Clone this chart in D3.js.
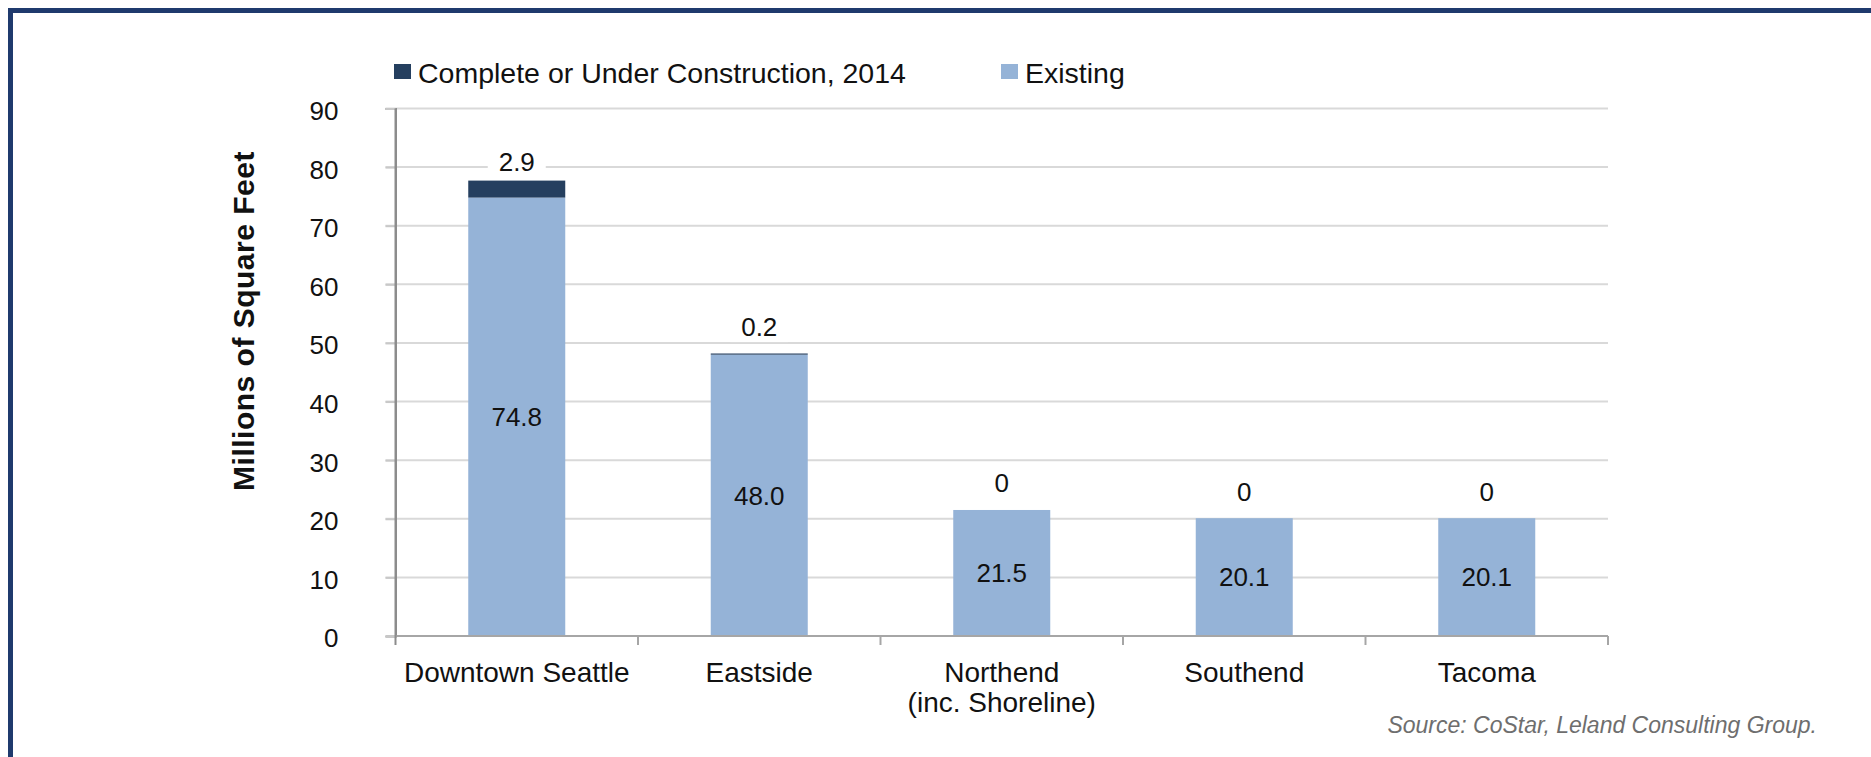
<!DOCTYPE html>
<html>
<head>
<meta charset="utf-8">
<script src="https://cdn.jsdelivr.net/npm/d3@7"></script>
<style>
  body { margin: 0; background: #fff; }
  svg { display: block; font-family: "Liberation Sans", Arial, sans-serif; }
</style>
</head>
<body>
<div id="chart"></div>
<script>
const categories = ["Downtown Seattle", "Eastside", "Northend\n(inc. Shoreline)", "Southend", "Tacoma"];
const existing = [74.8, 48.0, 21.5, 20.1, 20.1];
const construction = [2.9, 0.2, 0, 0, 0];
const yTicks = [0, 10, 20, 30, 40, 50, 60, 70, 80, 90];
const seriesNames = ["Complete or Under Construction, 2014", "Existing"];

const W = 1871, H = 757;
const margin = {top: 108.5, right: 263, bottom: 121, left: 395.5};
const width = W - margin.left - margin.right;
const height = H - margin.top - margin.bottom;

const darkBlue = "#253f5f";
const lightBlue = "#95b3d7";

const data = categories.map((c, i) => ({cat: c, existing: existing[i], construction: construction[i]}));

const svg = d3.select("#chart").append("svg")
  .attr("width", W)
  .attr("height", H);

// frame
svg.append("rect")
  .attr("x", 10.5).attr("y", 10.5)
  .attr("width", W + 20).attr("height", H + 20)
  .attr("fill", "none")
  .attr("stroke", "#1f3a6d")
  .attr("stroke-width", 5);

const g = svg.append("g")
  .attr("transform", `translate(${margin.left},${margin.top})`);

const x = d3.scaleBand().domain(categories).range([0, width]).padding(0);
const y = d3.scaleLinear().domain([0, 90]).range([height, 0]);
const barW = x.bandwidth() * 0.4;

// gridlines
g.selectAll(".grid")
  .data(yTicks.filter(d => d > 0))
  .enter().append("line")
  .attr("x1", -10).attr("x2", width)
  .attr("y1", d => y(d)).attr("y2", d => y(d))
  .attr("stroke", "#d9d9d9")
  .attr("stroke-width", 2);

// y axis
const yAxis = g.append("g")
  .call(d3.axisLeft(y).tickValues(yTicks).tickSize(10).tickPadding(47));
yAxis.select(".domain").attr("stroke", "#8c8c8c").attr("stroke-width", 2);
yAxis.selectAll(".tick line").attr("stroke", "#c8c8c8").attr("stroke-width", 2);
yAxis.selectAll(".tick text")
  .attr("font-size", 26)
  .attr("fill", "#111")
  .attr("dy", "0.42em")
  .style("font-family", "'Liberation Sans', Arial, sans-serif");

// bars
const bars = g.selectAll(".bar").data(data).enter().append("g");

bars.append("rect")
  .attr("x", d => x(d.cat) + (x.bandwidth() - barW) / 2)
  .attr("y", d => y(d.existing))
  .attr("width", barW)
  .attr("height", d => y(0) - y(d.existing))
  .attr("fill", lightBlue);

bars.append("rect")
  .attr("x", d => x(d.cat) + (x.bandwidth() - barW) / 2)
  .attr("y", d => y(d.existing + d.construction))
  .attr("width", barW)
  .attr("height", d => y(d.existing) - y(d.existing + d.construction))
  .attr("fill", darkBlue);

// x axis line + boundary ticks
g.append("line")
  .attr("x1", 0).attr("x2", width)
  .attr("y1", y(0)).attr("y2", y(0))
  .attr("stroke", "#a6a6a6").attr("stroke-width", 2);
g.append("line")
  .attr("x1", 0).attr("x2", 0)
  .attr("y1", 0).attr("y2", y(0) + 9)
  .attr("stroke", "#8c8c8c").attr("stroke-width", 2);

const bounds = categories.map(c => x(c)).concat([width]);
g.selectAll(".xtick").data(bounds.slice(1)).enter().append("line")
  .attr("x1", d => d).attr("x2", d => d)
  .attr("y1", y(0)).attr("y2", y(0) + 9)
  .attr("stroke", "#a6a6a6").attr("stroke-width", 2);

// category labels
const catLabels = g.selectAll(".cat").data(categories).enter().append("text")
  .attr("text-anchor", "middle")
  .attr("font-size", 28)
  .attr("fill", "#111")
  .attr("transform", d => `translate(${x(d) + x.bandwidth() / 2},${y(0) + 46})`);
catLabels.selectAll("tspan")
  .data(d => d.split("\n"))
  .enter().append("tspan")
  .attr("x", 0)
  .attr("dy", (d, i) => i === 0 ? 0 : 30)
  .text(d => d);

// value labels inside existing
bars.append("text")
  .attr("x", d => x(d.cat) + x.bandwidth() / 2)
  .attr("y", d => (y(0) + y(d.existing)) / 2)
  .attr("dy", "0.36em")
  .attr("text-anchor", "middle")
  .attr("font-size", 26)
  .attr("fill", "#111")
  .text(d => d3.format(".1f")(d.existing));

// value labels above construction
const topLab = bars.append("g")
  .attr("transform", d => `translate(${x(d.cat) + x.bandwidth() / 2},${(y(d.existing) + y(d.existing + d.construction)) / 2 - 27})`);
topLab.append("rect")
  .attr("x", -29).attr("y", -15)
  .attr("width", 58).attr("height", 30)
  .attr("fill", "#fff");
topLab.append("text")
  .attr("dy", "0.36em")
  .attr("text-anchor", "middle")
  .attr("font-size", 26)
  .attr("fill", "#111")
  .text(d => d3.format("~g")(d.construction));

// y title
svg.append("text")
  .attr("transform", "translate(254,321) rotate(-90)")
  .attr("text-anchor", "middle")
  .attr("font-size", 30)
  .attr("font-weight", "bold")
  .attr("letter-spacing", 0.5)
  .attr("fill", "#111")
  .text("Millions of Square Feet");

// legend
const legendX = [394, 1001];
const legend = svg.selectAll(".legend").data(seriesNames).enter().append("g")
  .attr("transform", (d, i) => `translate(${legendX[i]},64)`);
legend.append("rect")
  .attr("width", 17).attr("height", 15)
  .attr("fill", (d, i) => i === 0 ? darkBlue : lightBlue);
legend.append("text")
  .attr("x", 24).attr("y", 18.5)
  .attr("font-size", 28.5)
  .attr("fill", "#111")
  .text(d => d);

// source
svg.append("text")
  .attr("x", 1817).attr("y", 733)
  .attr("text-anchor", "end")
  .attr("font-size", 23)
  .attr("font-style", "italic")
  .attr("fill", "#6e6e6e")
  .text("Source: CoStar, Leland Consulting Group.");
</script>
</body>
</html>
